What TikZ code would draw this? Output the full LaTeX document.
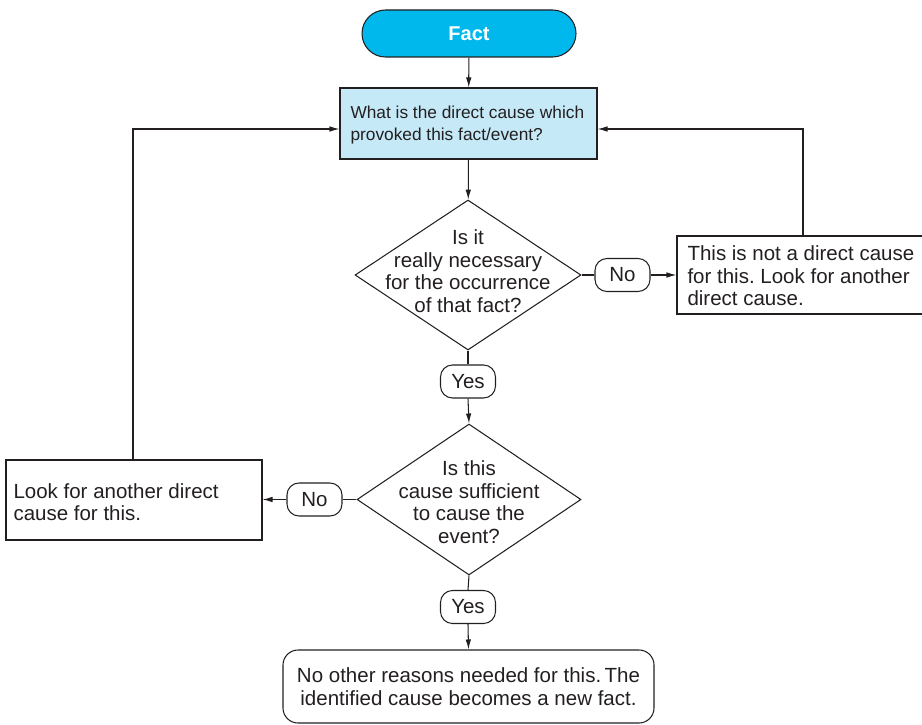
\documentclass[tikz,border=0pt]{standalone}
\usepackage{fontspec}
\setmainfont{Liberation Sans}
\usetikzlibrary{shapes.geometric,arrows.meta}
\definecolor{ink}{RGB}{35,31,32}
\definecolor{factblue}{RGB}{0,184,236}
\definecolor{qblue}{RGB}{198,233,248}
\frenchspacing
\begin{document}
\begin{tikzpicture}[x=1pt,y=-1pt,
  line width=1.05pt, draw=ink, text=ink,
  every node/.style={font=\fontsize{20.5}{22.5}\selectfont},
  arr/.style={-{Latex[length=10pt,width=5.5pt]}},
  procbox/.style={draw, rectangle, inner sep=0pt},
  decision/.style={draw, diamond, inner sep=0pt},
  answer/.style={draw, rectangle, rounded corners=12pt, minimum width=55pt, minimum height=33pt, inner sep=0pt},
  plain/.style={inner sep=0pt, align=left}]
\useasboundingbox (0,0) rectangle (922,725);
\clip (0,0) rectangle (922,725);

% start terminal
\node[draw, fill=factblue, rounded corners=23.5pt, minimum width=214pt, minimum height=47pt,
      text=white, font=\fontsize{20}{22}\selectfont\bfseries] (fact) at (469,33.5) {Fact};

% question box
\node[procbox, fill=qblue, minimum width=257pt, minimum height=71pt] (q) at (468.5,123.5) {};
\node[plain, anchor=west, font=\fontsize{17.3}{22}\selectfont] (qt) at (350,125)
  {What is the direct cause which\\provoked this fact/event?};

% first decision
\node[decision, minimum width=226pt, minimum height=150pt] (d1) at (468,275) {};
\node[inner sep=0pt, align=center] (d1t) at (468,271)
  {Is it\\really necessary\\for the occurrence\\of that fact?};
\node[answer] (no1) at (622.5,275) {No};

% not a direct cause (runs past the right edge)
\node[procbox, minimum width=340pt, minimum height=78pt] (r) at (847,275) {};
\node[plain, anchor=west] (rt) at (687,276)
  {This is not a direct cause\\for this. Look for another\\direct cause.};

\node[answer] (yes1) at (468,381.5) {Yes};

% second decision
\node[decision, minimum width=224pt, minimum height=151pt] (d2) at (469,499.5) {};
\node[inner sep=0pt, align=center] (d2t) at (469,502)
  {Is this\\cause sufficient\\to cause the\\event?};
\node[answer] (no2) at (314.5,499.5) {No};

% look for another cause
\node[procbox, minimum width=256pt, minimum height=80pt] (l) at (134,500) {};
\node[plain, anchor=west] (lt) at (13,502)
  {Look for another direct\\cause for this.};

\node[answer] (yes2) at (468,607) {Yes};

% final outcome
\node[draw, rounded corners=15pt, minimum width=371pt, minimum height=73pt, inner sep=0pt,
      align=center] (f) at (468.5,686.5)
  {No other reasons needed for this.\,The\\identified cause becomes a new fact.};

% connectors
\draw[arr] (fact) -- (q);
\draw[arr] (q) -- (d1);
\draw (d1.east) -- (no1.west);
\draw[arr] (no1.east) -- (r.west |- no1.east);
\coordinate (rtop) at (803,236);
\draw[arr] (rtop) |- ([yshift=-5.5pt]q.east);
\draw (d1.south) -- (yes1.north);
\draw[arr] (yes1.south) -- (d2.north);
\draw (d2.west) -- (no2.east);
\draw[arr] (no2.west) -- (l.east |- no2.west);
\coordinate (ltop) at (133,460);
\draw[arr] (ltop) |- ([yshift=-5.5pt]q.west);
\draw (d2.south) -- (yes2.north);
\draw[arr] (yes2.south) -- (f.north);
\end{tikzpicture}
\end{document}
